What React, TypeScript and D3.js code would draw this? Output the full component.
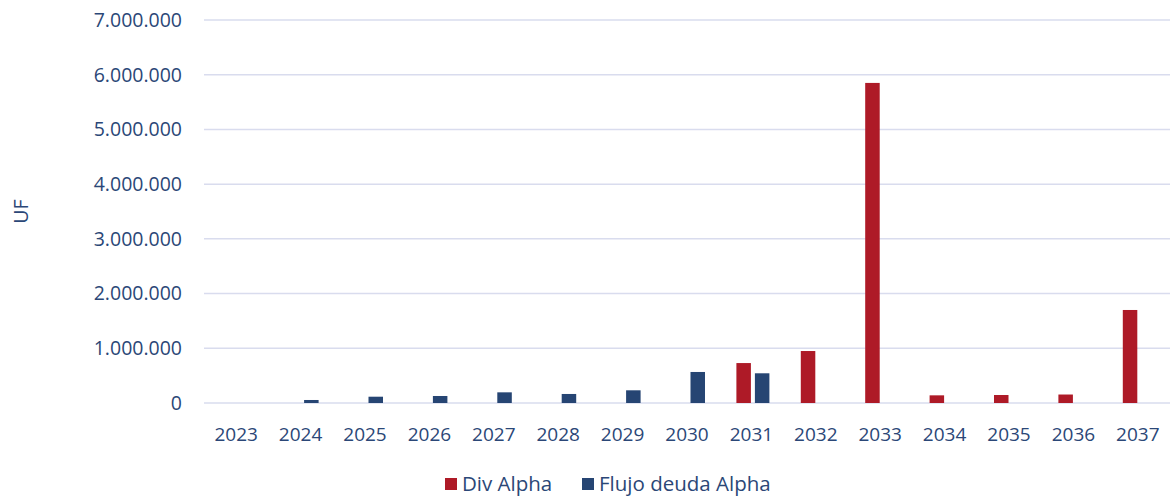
import React, { useEffect, useRef } from 'react';
import * as d3 from 'd3';

const years = ['2023', '2024', '2025', '2026', '2027', '2028', '2029', '2030', '2031', '2032', '2033', '2034', '2035', '2036', '2037'];
const divAlpha = [0, 0, 0, 0, 0, 0, 0, 0, 730000, 950000, 5850000, 140000, 146000, 155000, 1700000];
const flujoDeuda = [0, 55000, 115000, 128000, 195000, 165000, 232000, 567000, 543000, 0, 0, 0, 0, 0, 0];
const yTicks = [0, 1000000, 2000000, 3000000, 4000000, 5000000, 6000000, 7000000];
const seriesNames = ['Div Alpha', 'Flujo deuda Alpha'];

const RED = '#AE1A27';
const BLUE = '#264573';
const TEXT = '#2B4777';
const GRID = '#D9DCEE';
const FONT = '"Open Sans", "Noto Sans", sans-serif';

const W = 1172;
const H = 498;

export default function App() {
  const svgRef = useRef<SVGSVGElement>(null);

  useEffect(() => {
    document.body.style.margin = '0';
    if (!svgRef.current) return;
    const svg = d3.select(svgRef.current);
    svg.selectAll('*').remove();

    const mg = { left: 204, right: 2, top: 20, bottom: 95 };
    const locale = d3.formatLocale({ decimal: ',', thousands: '.', grouping: [3], currency: ['', ''] });
    const fmt = locale.format(',d');

    const x = d3.scaleBand<string>().domain(years).range([mg.left, W - mg.right]);
    const bw = x.bandwidth();
    const x1 = d3.scaleBand<string>()
      .domain(seriesNames)
      .range([bw / 2 - 15, bw / 2 + 18])
      .paddingInner(0.216);
    const y = d3.scaleLinear().domain([0, 7000000]).range([H - mg.bottom, mg.top]);

    // gridlines
    svg.append('g')
      .selectAll('line')
      .data(yTicks)
      .enter()
      .append('line')
      .attr('x1', mg.left)
      .attr('x2', W - mg.right)
      .attr('y1', d => y(d))
      .attr('y2', d => y(d))
      .attr('stroke', GRID)
      .attr('stroke-width', 1.5);

    // y tick labels
    svg.append('g')
      .selectAll('text')
      .data(yTicks)
      .enter()
      .append('text')
      .attr('x', 182)
      .attr('y', d => y(d))
      .attr('dy', '0.35em')
      .attr('text-anchor', 'end')
      .attr('fill', TEXT)
      .attr('font-family', FONT)
      .attr('font-size', 19.5)
      .text(d => fmt(d));

    // y title
    svg.append('text')
      .attr('transform', `translate(28,${y(3500000)}) rotate(-90)`)
      .attr('text-anchor', 'middle')
      .attr('fill', TEXT)
      .attr('font-family', FONT)
      .attr('font-size', 19.5)
      .text('UF');

    // bars
    const series = [
      { name: seriesNames[0], values: divAlpha, color: RED },
      { name: seriesNames[1], values: flujoDeuda, color: BLUE },
    ];
    series.forEach(s => {
      svg.append('g')
        .selectAll('rect')
        .data(years.map((yr, i) => ({ yr, v: s.values[i] })).filter(d => d.v > 0))
        .enter()
        .append('rect')
        .attr('x', d => x(d.yr)! + x1(s.name)!)
        .attr('width', x1.bandwidth())
        .attr('y', d => y(d.v))
        .attr('height', d => y(0) - y(d.v))
        .attr('fill', s.color);
    });

    // x tick labels
    svg.append('g')
      .selectAll('text')
      .data(years)
      .enter()
      .append('text')
      .attr('x', d => x(d)! + bw / 2)
      .attr('y', 434)
      .attr('dy', '0.35em')
      .attr('text-anchor', 'middle')
      .attr('fill', TEXT)
      .attr('font-family', FONT)
      .attr('font-size', 19)
      .text(d => d);

    // legend
    const leg = svg.append('g');
    const legItems = [
      { name: seriesNames[0], color: RED, x: 445 },
      { name: seriesNames[1], color: BLUE, x: 582 },
    ];
    legItems.forEach(it => {
      leg.append('rect')
        .attr('x', it.x)
        .attr('y', 478)
        .attr('width', 12)
        .attr('height', 12)
        .attr('fill', it.color);
      leg.append('text')
        .attr('x', it.x + 17)
        .attr('y', 484)
        .attr('dy', '0.35em')
        .attr('fill', TEXT)
        .attr('font-family', FONT)
        .attr('font-size', 20.5)
        .text(it.name);
    });
  }, []);

  return <svg ref={svgRef} width={W} height={H} style={{ display: 'block', background: '#fff' }} />;
}
